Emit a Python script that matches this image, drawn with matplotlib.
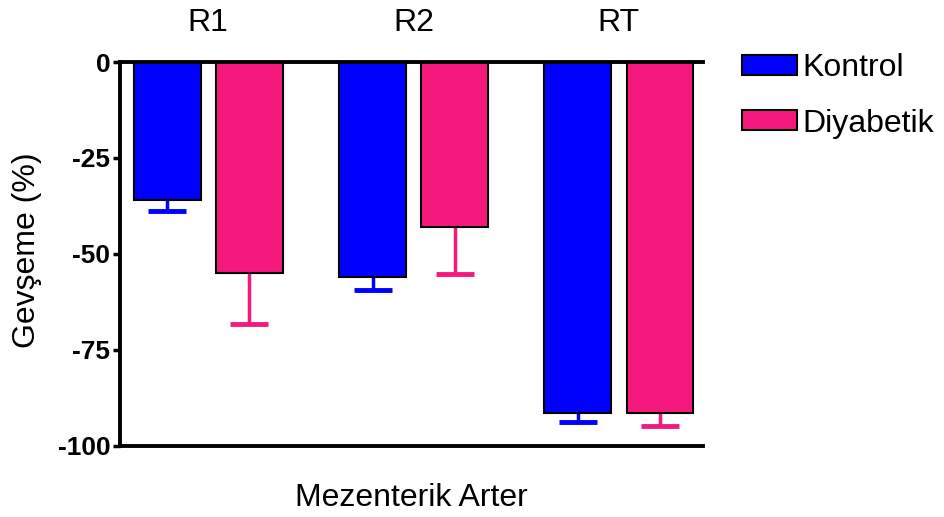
import matplotlib
matplotlib.use("Agg", force=True)
import matplotlib.pyplot as plt
import numpy as np

plt.rcParams.update({
    "font.family": ["Liberation Sans", "DejaVu Sans"],
    "font.size": 23,
})

COLOR_KONTROL = "#0000FF"
COLOR_DIYABETIK = "#F5197D"

groups = ["R1", "R2", "RT"]
kontrol = [-36.0, -56.0, -91.5]
kontrol_sem = [2.8, 3.4, 2.3]
diyabetik = [-55.0, -43.0, -91.5]
diyabetik_sem = [13.3, 12.3, 3.4]

fig = plt.figure(figsize=(9.45, 5.17), dpi=100)
ax = fig.add_axes([0.127, 0.138, 0.617, 0.742])

x = np.arange(len(groups))
width = 0.325
offset = 0.2

ax.bar(x - offset, kontrol, width, color=COLOR_KONTROL, edgecolor="black",
       linewidth=1.5, label="Kontrol", zorder=2)
ax.bar(x + offset, diyabetik, width, color=COLOR_DIYABETIK, edgecolor="black",
       linewidth=1.5, label="Diyabetik", zorder=2)

# one-sided (downward) error bars with a cap only at the lower end
for xs, vals, sem, col in [(x - offset, kontrol, kontrol_sem, COLOR_KONTROL),
                           (x + offset, diyabetik, diyabetik_sem, COLOR_DIYABETIK)]:
    low = np.array(vals) - np.array(sem)
    ax.vlines(xs, vals, low, colors=col, linewidth=2.5, zorder=1)
    ax.plot(xs, low, linestyle="none", marker="_", markersize=27,
            markeredgewidth=3.5, color=col, zorder=1)

ax.set_xlim(-0.43, 2.41)
ax.set_ylim(-100, 0)
ax.set_yticks([0, -25, -50, -75, -100])
ax.set_yticklabels(["0", "-25", "-50", "-75", "-100"], fontweight="bold", fontsize=19)
ax.tick_params(axis="y", direction="out", length=5, width=2.5, pad=2)

ax.xaxis.tick_top()
ax.set_xticks(x)
ax.set_xticklabels(groups, fontsize=23)
ax.tick_params(axis="x", length=0, pad=17)

ax.spines["right"].set_visible(False)
for side in ["left", "top", "bottom"]:
    ax.spines[side].set_linewidth(2.8)

ax.set_ylabel("Gevşeme (%)", fontsize=23)
ax.yaxis.set_label_coords(-0.134, 0.51)
ax.xaxis.set_label_position("bottom")
ax.set_xlabel("Mezenterik Arter", fontsize=23, labelpad=27)

fig.legend(loc="upper left", bbox_to_anchor=(0.772, 0.922), frameon=False,
           fontsize=23, handlelength=1.72, handleheight=0.58,
           handletextpad=0.15, labelspacing=0.8, borderaxespad=0)

fig.savefig("out.png", dpi=100)
